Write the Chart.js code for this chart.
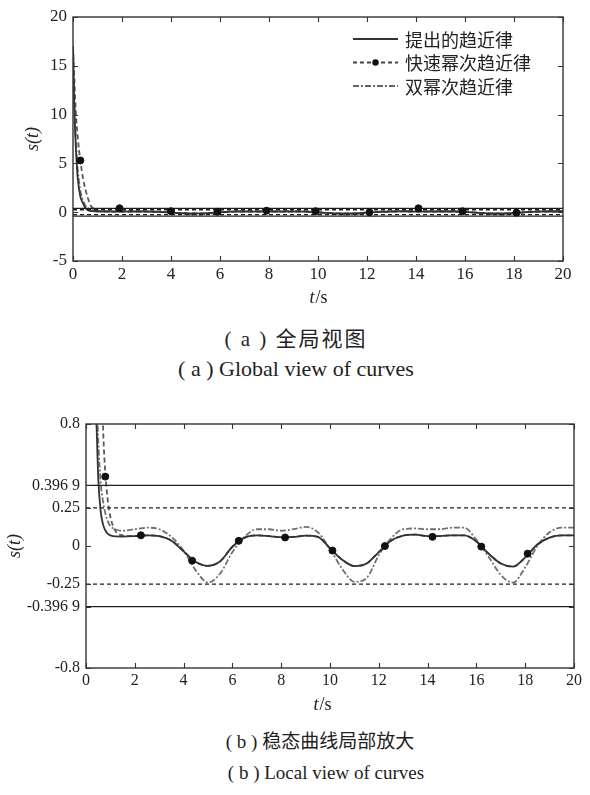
<!DOCTYPE html>
<html>
<head>
<meta charset="utf-8">
<script src="https://cdn.jsdelivr.net/npm/chart.js@4.4.1/dist/chart.umd.min.js"></script>
<style>
  body { margin: 0; background: #fff; }
  #page { position: relative; width: 590px; height: 795px; overflow: hidden; background: #fff; }
  canvas { position: absolute; left: 0; }
  .cap { position: absolute; width: 400px; text-align: center; white-space: pre;
         font-family: "Liberation Serif", "Noto Sans CJK SC", serif; font-size: 19px;
         line-height: 22px; color: #222; }
</style>
</head>
<body>
<div id="page">
  <canvas id="globalChart" width="590" height="320" style="top:0"></canvas>
  <div class="cap" style="left:96px;top:328px;font-size:21px;letter-spacing:2px">( a ) 全局视图</div>
  <div class="cap" style="left:96px;top:358px;font-size:22px">( a ) Global view of curves</div>
  <canvas id="localChart" width="590" height="320" style="top:400px"></canvas>
  <div class="cap" style="left:120px;top:731px">( b ) 稳态曲线局部放大</div>
  <div class="cap" style="left:126px;top:762px">( b ) Local view of curves</div>
</div>
<script>
// sampling times (s)
const tGrid = [0, 0.05, 0.1, 0.15, 0.2, 0.3, 0.4, 0.5, 0.6, 0.7, 0.8, 0.9, 1.0, 1.2, 1.5,
  2.0, 2.5, 3.0, 3.5, 4.0, 4.5, 5.0, 5.5, 6.0, 6.5, 7.0, 7.5, 8.0, 8.5, 9.0, 9.5,
  10.0, 10.5, 11.0, 11.5, 12.0, 12.5, 13.0, 13.5, 14.0, 14.5, 15.0, 15.5, 16.0, 16.5,
  17.0, 17.5, 18.0, 18.5, 19.0, 19.5, 20.0]

// s(t) of the three reaching laws
const proposedLaw = [17, 11, 7.5, 5, 3.3, 1.6, 0.95, 0.45, 0.23, 0.14, 0.1, 0.08, 0.07, 0.063, 0.062,
  0.065, 0.07, 0.064, 0.035, -0.035, -0.105, -0.13, -0.1, -0.005, 0.055, 0.07, 0.065, 0.058, 0.06, 0.068, 0.06,
  -0.015, -0.09, -0.132, -0.115, -0.04, 0.035, 0.068, 0.075, 0.065, 0.065, 0.07, 0.07, 0.03, -0.05,
  -0.115, -0.135, -0.075, 0.01, 0.055, 0.07, 0.07]
const fastPowerLaw = [17, 14, 11, 9, 7.5, 5.3, 3.6, 2.4, 1.5, 0.78, 0.46, 0.29, 0.19, 0.1, 0.07,
  0.065, 0.07, 0.064, 0.035, -0.035, -0.105, -0.13, -0.1, -0.005, 0.055, 0.07, 0.065, 0.058, 0.06, 0.068, 0.06,
  -0.015, -0.09, -0.132, -0.115, -0.04, 0.035, 0.068, 0.075, 0.065, 0.065, 0.07, 0.07, 0.03, -0.05,
  -0.115, -0.135, -0.075, 0.01, 0.055, 0.07, 0.07]
const doublePowerLaw = [17, 12, 8.5, 6, 4.2, 2.2, 1.25, 0.7, 0.42, 0.29, 0.21, 0.16, 0.13, 0.11, 0.1,
  0.11, 0.12, 0.11, 0.06, -0.03, -0.16, -0.24, -0.18, -0.04, 0.06, 0.11, 0.11, 0.1, 0.11, 0.125, 0.09,
  -0.02, -0.15, -0.235, -0.21, -0.06, 0.05, 0.11, 0.115, 0.11, 0.11, 0.12, 0.12, 0.04, -0.07,
  -0.19, -0.24, -0.14, 0.0, 0.09, 0.12, 0.12]
const seriesNames = ['提出的趋近律', '快速幂次趋近律', '双幂次趋近律']

// dot markers on the fast power law curve, as placed in each panel
const globalDotT = [0.3, 1.9, 4.0, 5.9, 7.9, 9.9, 12.1, 14.1, 15.9, 18.1]
const globalDotS = [5.3, 0.4, 0.1, 0.05, 0.15, 0.1, 0.0, 0.4, 0.1, -0.05]
const localDotT = [0.79, 2.25, 4.35, 6.26, 8.16, 10.1, 12.25, 14.2, 16.2, 18.1]
const localDotS = [0.455, 0.07, -0.096, 0.034, 0.056, -0.03, 0.0, 0.06, -0.004, -0.05]

// boundary layers
const boundT = [0, 20]
const outerBound = 0.3969
const innerBound = 0.25

const xTicks = [0, 2, 4, 6, 8, 10, 12, 14, 16, 18, 20]
const globalYTicks = [-5, 0, 5, 10, 15, 20]
const localYTicks = [-0.8, -0.3969, -0.25, 0, 0.25, 0.3969, 0.8]
const localYLabels = ['-0.8', '-0.396 9', '-0.25', '0', '0.25', '0.396 9', '0.8']

const pts = (ts, vs) => ts.map((t, i) => ({x: t, y: vs[i]}))
const serif = '"Liberation Serif"'

// axes box with inward ticks on all four sides
const framePlugin = {
    id: 'frame',
    afterDatasetsDraw(chart) {
        const {ctx, chartArea: a, scales: {x, y}} = chart
        ctx.save()
        ctx.strokeStyle = '#333'
        ctx.lineWidth = 1.4
        ctx.strokeRect(a.left, a.top, a.right - a.left, a.bottom - a.top)
        ctx.lineWidth = 1.1
        ctx.beginPath()
        x.ticks.forEach(t => {
            const px = Math.round(x.getPixelForValue(t.value)) + 0.5
            ctx.moveTo(px, a.bottom); ctx.lineTo(px, a.bottom - 5)
            ctx.moveTo(px, a.top); ctx.lineTo(px, a.top + 5)
        })
        y.ticks.forEach(t => {
            const py = Math.round(y.getPixelForValue(t.value)) + 0.5
            ctx.moveTo(a.left, py); ctx.lineTo(a.left + 5, py)
            ctx.moveTo(a.right, py); ctx.lineTo(a.right - 5, py)
        })
        ctx.stroke()
        // x axis title: italic t, upright /s
        const o = chart.options.plugins.frame
        ctx.fillStyle = '#222'
        ctx.textBaseline = 'middle'
        ctx.font = 'italic 18px ' + serif
        const w1 = ctx.measureText('t').width
        ctx.font = '18px ' + serif
        const w2 = ctx.measureText('/s').width
        const x0 = o.titleX - (w1 + w2) / 2
        ctx.font = 'italic 18px ' + serif
        ctx.textAlign = 'left'
        ctx.fillText('t', x0, o.titleY)
        ctx.font = '18px ' + serif
        ctx.fillText('/s', x0 + w1 + 1, o.titleY)
        ctx.restore()
    }
}

// legend drawn like the MATLAB one: line sample, optional dot, label
const legendPlugin = {
    id: 'lawLegend',
    afterDraw(chart) {
        const o = chart.options.plugins.lawLegend
        if (!o.show) return
        const {ctx} = chart
        const styles = [
            {color: '#333', dash: [], dot: false},
            {color: '#444', dash: [4, 3], dot: true},
            {color: '#666', dash: [6, 2, 2, 2], dot: false}
        ]
        ctx.save()
        styles.forEach((s, i) => {
            const yy = o.y + i * o.step
            ctx.strokeStyle = s.color
            ctx.lineWidth = 1.8
            ctx.setLineDash(s.dash)
            ctx.beginPath()
            ctx.moveTo(o.x, yy); ctx.lineTo(o.x + 45, yy)
            ctx.stroke()
            ctx.setLineDash([])
            if (s.dot) {
                ctx.fillStyle = '#111'
                ctx.beginPath(); ctx.arc(o.x + 22.5, yy, 3.2, 0, Math.PI * 2); ctx.fill()
            }
            ctx.fillStyle = '#222'
            ctx.font = '18px "Noto Sans CJK SC"'
            ctx.textBaseline = 'middle'
            ctx.fillText(seriesNames[i], o.x + 52, yy + 1)
        })
        ctx.restore()
    }
}

function drawPanel(id, p) {
    const boundLine = (v, dash) => ({
        data: pts(boundT, [v, v]), borderColor: '#1e1e1e', borderWidth: 1.3,
        borderDash: dash, pointRadius: 0, order: 0
    })
    return new Chart(document.getElementById(id), {
        type: 'line',
        data: {
            datasets: [
                boundLine(outerBound, []), boundLine(-outerBound, []),
                boundLine(innerBound, [4, 3]), boundLine(-innerBound, [4, 3]),
                {label: seriesNames[2], data: pts(tGrid, doublePowerLaw), borderColor: '#707070',
                 borderWidth: 1.8, borderDash: [6, 2, 2, 2], pointRadius: 0, cubicInterpolationMode: 'monotone', order: 3},
                {label: seriesNames[1], data: pts(tGrid, fastPowerLaw), borderColor: '#5a5a5a',
                 borderWidth: 1.8, borderDash: [5, 3], pointRadius: 0, cubicInterpolationMode: 'monotone', order: 2},
                {label: seriesNames[0], data: pts(tGrid, proposedLaw), borderColor: '#333',
                 borderWidth: 1.8, pointRadius: 0, cubicInterpolationMode: 'monotone', order: 1},
                {data: pts(p.dotT, p.dotS), showLine: false, pointRadius: 3.5,
                 pointBackgroundColor: '#111', pointBorderColor: '#111', order: -1}
            ]
        },
        options: {
            responsive: false,
            animation: false,
            events: [],
            layout: {padding: {top: p.area.top, right: 590 - p.area.right, left: 0, bottom: 0}},
            plugins: {
                legend: {display: false},
                tooltip: {enabled: false},
                frame: {titleX: p.titleX, titleY: p.titleY},
                lawLegend: {show: p.legend, x: 353, y: 39, step: 23.5}
            },
            scales: {
                x: {
                    type: 'linear', min: 0, max: 20,
                    afterBuildTicks: s => { s.ticks = xTicks.map(v => ({value: v})) },
                    afterFit: s => { s.height = 320 - p.area.bottom },
                    grid: {display: false, drawTicks: false},
                    border: {display: false},
                    ticks: {font: {family: serif, size: p.tickSize}, color: '#222', padding: 3, maxRotation: 0, autoSkip: false}
                },
                y: {
                    type: 'linear', min: p.yMin, max: p.yMax,
                    afterBuildTicks: s => { s.ticks = p.yTicks.map(v => ({value: v})) },
                    afterFit: s => { s.width = p.area.left },
                    grid: {display: false, drawTicks: false},
                    border: {display: false},
                    ticks: {
                        font: {family: serif, size: p.tickSize}, color: '#222', padding: 6, autoSkip: false,
                        callback: v => p.yLabels[p.yTicks.indexOf(v)]
                    },
                    title: {display: true, text: 's(t)', color: '#222',
                            font: {family: serif, size: 18, style: 'italic'}, padding: {top: p.titlePad}}
                }
            }
        },
        plugins: [framePlugin, legendPlugin]
    })
}

drawPanel('globalChart', {
    area: {left: 73, top: 17, right: 563, bottom: 261},
    yMin: -5, yMax: 20, yTicks: globalYTicks, yLabels: globalYTicks.map(String),
    dotT: globalDotT, dotS: globalDotS, tickSize: 17,
    titlePad: 22, titleX: 318, titleY: 298, legend: true
})
drawPanel('localChart', {
    area: {left: 86, top: 24, right: 574, bottom: 268},
    yMin: -0.8, yMax: 0.8, yTicks: localYTicks, yLabels: localYLabels,
    dotT: localDotT, dotS: localDotS, tickSize: 16,
    titlePad: 4, titleX: 322, titleY: 305, legend: false
})
</script>
</body>
</html>
